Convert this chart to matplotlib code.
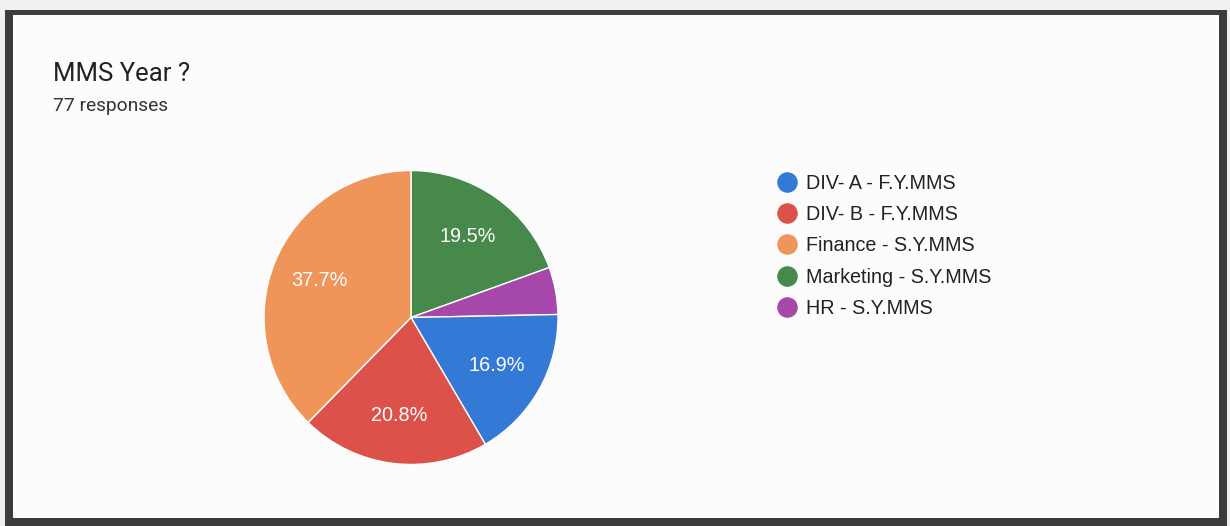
import matplotlib.pyplot as plt
from matplotlib.patches import Rectangle
from matplotlib.lines import Line2D

labels = ["DIV- A - F.Y.MMS", "DIV- B - F.Y.MMS", "Finance - S.Y.MMS",
          "Marketing - S.Y.MMS", "HR - S.Y.MMS"]
counts = [13, 16, 29, 15, 4]
colors = ["#3479d6", "#dc5149", "#ef955a", "#47894a", "#a648aa"]
# slices go clockwise from 12 o'clock in this order
draw_order = [3, 4, 0, 1, 2]

W, H = 1230, 526
fig = plt.figure(figsize=(W / 100, H / 100), dpi=100)
fig.patch.set_facecolor("#f1f1f1")

def px(x, y):
    return x / W, 1 - y / H

# page and dark frame
fig.patches.append(Rectangle(px(5, 526), 1222 / W, 516 / H, transform=fig.transFigure,
                             facecolor="#fcfcfd", edgecolor="none", zorder=-2))
frame = "#3c3c3c"
for x0, y0, w, h in [(5, 10, 1222, 5), (5, 10, 8, 516), (1219, 10, 8, 516), (5, 518, 1222, 8)]:
    fig.patches.append(Rectangle(px(x0, y0 + h), w / W, h / H, transform=fig.transFigure,
                                 facecolor=frame, edgecolor="none", zorder=-1))

fig.text(*px(53, 81), "MMS Year ?", fontsize=18.5, family="Roboto", color="#222222")
fig.text(*px(53, 111), "77 responses", fontsize=13.8, family="Roboto", color="#333333")

# pie
cx, cy, r = 411, 317.5, 147
ax = fig.add_axes([(cx - r) / W, (H - cy - r) / H, 2 * r / W, 2 * r / H], zorder=3)
ax.patch.set_visible(False)

def pct(p):
    return "%.1f%%" % p if p > 8 else ""

wedges, texts, autotexts = ax.pie(
    [counts[i] for i in draw_order],
    colors=[colors[i] for i in draw_order],
    startangle=90, counterclock=False, radius=1,
    autopct=pct, pctdistance=0.67,
    wedgeprops=dict(edgecolor="white", linewidth=1),
    textprops=dict(color="white", fontsize=14.3, family="Liberation Sans"))
ax.set_xlim(-1, 1)
ax.set_ylim(-1, 1)
ax.axis("off")

# legend
for i, lab in enumerate(labels):
    y = 182 + i * 31.2
    fig.add_artist(Line2D([787 / W], [1 - y / H], marker="o", markersize=13.8,
                          color=colors[i], linestyle="None", transform=fig.transFigure))
    fig.text(*px(806, y + 1.5), lab, fontsize=14.2, family="Liberation Sans",
             color="#222222", va="center")

fig.savefig("out.png", dpi=100, facecolor=fig.get_facecolor())
